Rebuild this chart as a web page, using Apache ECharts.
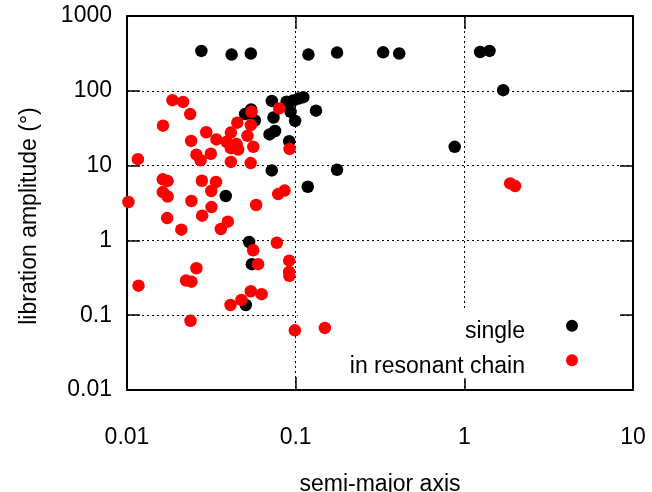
<!DOCTYPE html>
<html>
<head>
<meta charset="utf-8">
<script src="https://cdn.jsdelivr.net/npm/echarts@6/dist/echarts.min.js"></script>
<style>
  html, body { margin: 0; padding: 0; background: #fff; }
  #chart { width: 652px; height: 492px; }
</style>
</head>
<body>
<div id="chart"></div>
<script>
// Isolated planets: semi-major axis and libration amplitude (degrees)
const singleA = [0.0276, 0.0417, 0.0542, 0.119, 0.176, 0.330, 0.411, 1.24, 1.41, 1.70,
  0.877, 0.176, 0.118, 0.132, 0.0993, 0.0933, 0.0722, 0.0883, 0.0967, 0.104,
  0.111, 0.0544, 0.0501, 0.0573, 0.0739, 0.0700, 0.0755, 0.0915, 0.0722, 0.0385,
  0.0530, 0.0550, 0.0506];
const singleAmp = [341, 305, 315, 305, 324, 327, 315, 330, 341, 102,
  17.8, 8.79, 5.21, 54.2, 39.6, 52.3, 73.3, 71.5, 74.2, 78.9,
  82.2, 56.2, 48.8, 40.1, 44.0, 26.1, 29.0, 21.2, 8.63, 3.92,
  0.953, 0.481, 0.137];

// Planets in resonant chains
const chainA = [0.0186, 0.0215, 0.0237, 0.01635, 0.0295, 0.0240, 0.0339, 0.0258, 0.0273, 0.0314,
  0.0116, 0.0798, 0.0547, 0.0542, 0.0451, 0.0413, 0.0389, 0.0446, 0.0413, 0.0456,
  0.0561, 0.0518, 0.0413, 0.0541, 0.0920, 0.0102, 0.0163, 0.0174, 0.0163, 0.0174,
  0.0241, 0.0278, 0.0316, 0.0337, 0.0317, 0.0583, 0.0787, 0.0859, 0.0173, 0.0210,
  0.0279, 0.0360, 0.0396, 0.0560, 0.0599, 0.0773, 0.0915, 0.0915, 0.0917, 0.0258,
  0.0224, 0.0241, 0.0117, 0.0542, 0.0628, 0.0477, 0.0411, 0.0238, 0.0989, 0.149,
  1.87, 2.00];
const chainAmp = [74.9, 71.1, 48.8, 34.2, 27.9, 21.4, 22.4, 14.0, 11.8, 14.4,
  12.2, 58.1, 52.3, 34.8, 37.5, 27.6, 20.8, 19.4, 17.1, 16.4,
  17.8, 25.0, 11.2, 10.8, 16.7, 3.26, 6.56, 6.21, 4.43, 3.86,
  3.36, 6.27, 4.57, 6.03, 2.79, 2.97, 4.16, 4.63, 1.99, 1.39,
  2.14, 1.42, 1.78, 0.738, 0.481, 0.931, 0.536, 0.379, 0.337, 0.424,
  0.290, 0.281, 0.248, 0.209, 0.191, 0.160, 0.137, 0.084, 0.0627, 0.0676,
  5.78, 5.32];

const seriesNames = ['single', 'in resonant chain'];
const seriesColors = ['#000000', '#ff0000'];

// Axis ranges and decade labels
const xRange = [0.01, 10];
const yRange = [0.01, 1000];
const xTickLabels = ['0.01', '0.1', '1', '10'];
const yTickLabels = ['0.01', '0.1', '1', '10', '100', '1000'];
const xMinorMultipliers = [2, 3, 4, 5, 6, 7, 8, 9];
const yMinorMultipliers = [2, 5, 8];

const FONT = 'Liberation Sans';
const FS = 23;

function decadeLabel(labels, lowExp) {
  return function (v) {
    const i = Math.round(Math.log10(v)) - lowExp;
    return labels[i] !== undefined ? labels[i] : '';
  };
}

// Minor tick positions inside each decade (axis decoration only)
function minorTicks(range, mults) {
  const out = [];
  const lo = Math.round(Math.log10(range[0]));
  const hi = Math.round(Math.log10(range[1]));
  for (let e = lo; e < hi; e++) {
    mults.forEach(m => out.push(m * Math.pow(10, e)));
  }
  return out;
}
const xMinor = minorTicks(xRange, xMinorMultipliers);
const yMinor = minorTicks(yRange, yMinorMultipliers);
const MINOR_LEN = 7;

const tickStyle = { color: '#000', width: 1.5 };

function renderXMinor(params, api) {
  const v = api.value(0);
  const b = api.coord([v, yRange[0]]);
  const t = api.coord([v, yRange[1]]);
  return {
    type: 'group',
    children: [
      { type: 'line', shape: { x1: b[0], y1: b[1], x2: b[0], y2: b[1] - MINOR_LEN }, style: tickStyle },
      { type: 'line', shape: { x1: t[0], y1: t[1], x2: t[0], y2: t[1] + MINOR_LEN }, style: tickStyle }
    ]
  };
}
function renderYMinor(params, api) {
  const v = api.value(1);
  const l = api.coord([xRange[0], v]);
  const r = api.coord([xRange[1], v]);
  return {
    type: 'group',
    children: [
      { type: 'line', shape: { x1: l[0], y1: l[1], x2: l[0] + MINOR_LEN, y2: l[1] }, style: tickStyle },
      { type: 'line', shape: { x1: r[0], y1: r[1], x2: r[0] - MINOR_LEN, y2: r[1] }, style: tickStyle }
    ]
  };
}

// Legend marker: a dot sitting in the upper half of a 12x24 icon box,
// so the key text lines up slightly below the dot.
const keyDot = 'path://M0,6 A6,6 0 1,1 12,6 A6,6 0 1,1 0,6 Z M6,24 L6,24.01';

const borderLine = { show: true, lineStyle: { color: '#000', width: 2 } };
const majorTick = { show: true, inside: true, length: 13, lineStyle: tickStyle };
const gridDots = { show: true, lineStyle: { color: '#000', width: 1, type: [2, 3] } };

const chart = echarts.init(document.getElementById('chart'), null, { renderer: 'canvas' });

chart.setOption({
  animation: false,
  backgroundColor: '#fff',
  textStyle: { fontFamily: FONT },
  grid: { left: 127, right: 19, top: 16, bottom: 102, containLabel: false, outerBoundsMode: 'none' },
  xAxis: [
    {
      type: 'log', logBase: 10, min: xRange[0], max: xRange[1], position: 'bottom',
      name: 'semi-major axis', nameLocation: 'middle', nameGap: 83,
      nameTextStyle: { fontFamily: FONT, fontSize: FS, color: '#000' },
      axisLine: borderLine, axisTick: majorTick,
      axisLabel: { formatter: decadeLabel(xTickLabels, -2), fontFamily: FONT, fontSize: FS, color: '#000', margin: 36 },
      splitLine: gridDots, minorTick: { show: false }
    },
    {
      type: 'log', logBase: 10, min: xRange[0], max: xRange[1], position: 'top',
      axisLine: borderLine, axisTick: majorTick, axisLabel: { show: false }, splitLine: { show: false }
    }
  ],
  yAxis: [
    {
      type: 'log', logBase: 10, min: yRange[0], max: yRange[1], position: 'left',
      name: 'libration amplitude (°)', nameLocation: 'middle', nameGap: 86,
      nameTextStyle: { fontFamily: FONT, fontSize: FS, color: '#000', padding: [0, 26, 0, 0] },
      axisLine: borderLine, axisTick: majorTick,
      axisLabel: { formatter: decadeLabel(yTickLabels, -2), fontFamily: FONT, fontSize: FS, color: '#000', margin: 15, padding: [6, 0, 0, 0] },
      splitLine: gridDots
    },
    {
      type: 'log', logBase: 10, min: yRange[0], max: yRange[1], position: 'right',
      axisLine: borderLine, axisTick: majorTick, axisLabel: { show: false }, splitLine: { show: false }
    }
  ],
  legend: {
    data: seriesNames,
    orient: 'vertical',
    align: 'right',
    right: 33,
    top: 308,
    icon: keyDot,
    itemWidth: 12,
    itemHeight: 24,
    itemGap: 10.6,
    padding: [11.7, 41, 0, 52],
    backgroundColor: '#fff',
    selectedMode: false,
    textStyle: { fontFamily: FONT, fontSize: FS, color: '#000', padding: [0, 36, 0, 0] }
  },
  series: [
    {
      name: seriesNames[0], type: 'scatter', z: 5,
      symbol: 'circle', symbolSize: 12.5,
      itemStyle: { color: seriesColors[0], opacity: 1 },
      data: singleA.map((a, i) => [a, singleAmp[i]])
    },
    {
      name: seriesNames[1], type: 'scatter', z: 6,
      symbol: 'circle', symbolSize: 12.5,
      itemStyle: { color: seriesColors[1], opacity: 1 },
      data: chainA.map((a, i) => [a, chainAmp[i]])
    },
    {
      type: 'custom', z: 7, silent: true, renderItem: renderXMinor,
      data: xMinor.map(v => [v, 1])
    },
    {
      type: 'custom', z: 7, silent: true, renderItem: renderYMinor,
      data: yMinor.map(v => [1, v])
    }
  ]
});
</script>
</body>
</html>
